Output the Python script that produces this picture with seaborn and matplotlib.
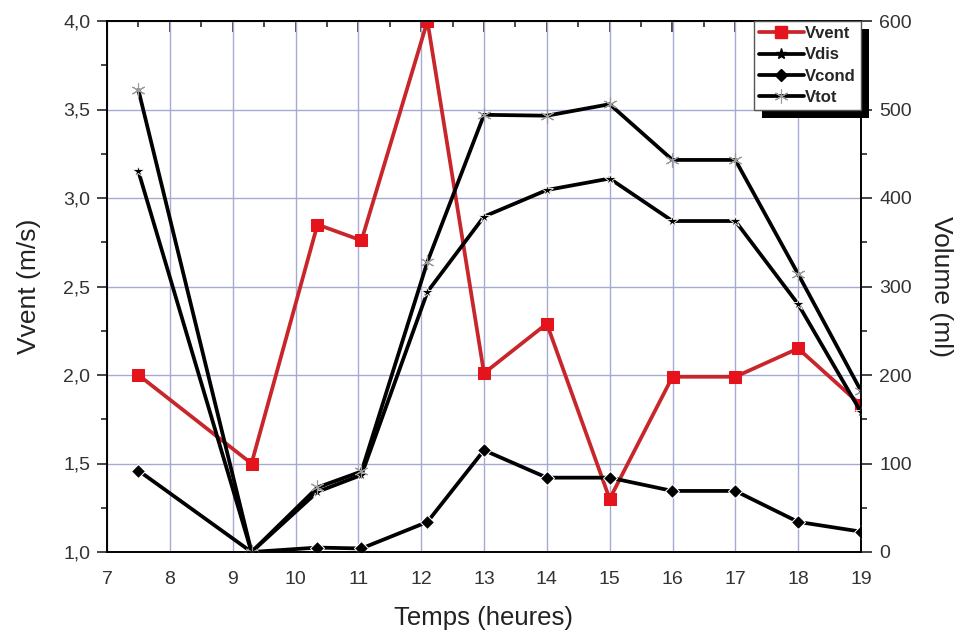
import matplotlib
matplotlib.use("Agg")
import matplotlib.pyplot as plt
import seaborn as sns
from matplotlib.ticker import MultipleLocator, FuncFormatter
from matplotlib.lines import Line2D
from matplotlib.patches import Rectangle
from matplotlib.transforms import IdentityTransform

# Measurement times (hours) and series
hours = [7.5, 9.3, 10.35, 11.05, 12.1, 13, 14, 15, 16, 17, 18, 19]
vvent = [2.00, 1.50, 2.85, 2.76, 4.00, 2.01, 2.29, 1.30, 1.99, 1.99, 2.15, 1.83]   # m/s
vdis = [430, 0, 68, 87, 294, 379, 409, 422, 374, 374, 280, 158]                    # ml
vcond = [92, 0, 5, 4, 34, 115, 84, 84, 69, 69, 34, 23]                             # ml
vtot = [522, 0, 73, 91, 328, 494, 493, 506, 443, 443, 314, 182]                    # ml

sns.set_style("white")
plt.rcParams['font.family'] = ['Liberation Sans', 'DejaVu Sans']
plt.rcParams['axes.linewidth'] = 1.2

W, H = 962, 638
fig = plt.figure(figsize=(W / 100, H / 100), dpi=100)
ax = fig.add_axes([107 / W, 1 - 552 / H, (861 - 107) / W, (552 - 21) / H])
ax2 = ax.twinx()

red_line = '#c8262a'
red_fill = '#e5141c'
lw = 2.7
ast_col = '#9a9a9a'

sns.lineplot(x=hours, y=vvent, ax=ax, color=red_line, lw=lw, marker='s',
             markersize=8, markerfacecolor=red_fill, markeredgecolor=red_fill,
             errorbar=None, legend=False)
sns.lineplot(x=hours, y=vdis, ax=ax2, color='black', lw=lw, marker='*',
             markersize=9, markeredgewidth=0.6, errorbar=None, legend=False)
sns.lineplot(x=hours, y=vcond, ax=ax2, color='black', lw=lw, marker='D',
             markersize=7, errorbar=None, legend=False)
sns.lineplot(x=hours, y=vtot, ax=ax2, color='black', lw=lw, marker=(6, 2, 0),
             markersize=10, markeredgewidth=0.8, markeredgecolor=ast_col,
             errorbar=None, legend=False)

# Axes ranges and ticks
ax.set_xlim(7, 19)
ax.set_ylim(1.0, 4.0)
ax2.set_ylim(0, 600)
ax.xaxis.set_major_locator(MultipleLocator(1))
ax.xaxis.set_minor_locator(MultipleLocator(0.5))
ax.yaxis.set_major_locator(MultipleLocator(0.5))
ax.yaxis.set_minor_locator(MultipleLocator(0.25))
ax2.yaxis.set_major_locator(MultipleLocator(100))
ax2.yaxis.set_minor_locator(MultipleLocator(50))
ax.yaxis.set_major_formatter(FuncFormatter(lambda v, p: f"{v:.1f}".replace('.', ',')))

grid_c = '#a4aad2'
ax.grid(True, which='major', color=grid_c, lw=1.0)
ax.set_axisbelow(True)

ax.tick_params(axis='x', which='major', direction='out', length=8, width=1.2,
               labelsize=14, pad=6, colors='black', labelcolor='#333333')
ax.tick_params(axis='x', which='minor', direction='out', length=4, width=1.2)
ax.tick_params(axis='y', which='major', direction='out', length=7, width=1.2,
               labelsize=14, pad=5, labelcolor='#333333')
ax.tick_params(axis='y', which='minor', direction='out', length=4, width=1.2)
ax2.tick_params(axis='y', which='major', direction='out', length=8, width=1.2,
                labelsize=14, pad=5, labelcolor='#333333')
ax2.tick_params(axis='y', which='minor', direction='out', length=4, width=1.2)

top = ax.secondary_xaxis('top')
top.xaxis.set_major_locator(MultipleLocator(1))
top.xaxis.set_minor_locator(MultipleLocator(0.5))
top.tick_params(which='major', direction='in', length=8, width=1.2, labeltop=False)
top.tick_params(which='minor', direction='in', length=4, width=1.2)

for a in (ax, ax2):
    for s in a.spines.values():
        s.set_color('black')
        s.set_linewidth(1.2)

ax.set_xlabel('Temps (heures)', fontsize=18.5, labelpad=13, color='#222222')
ax.set_ylabel('Vvent (m/s)', fontsize=19, labelpad=16, color='#222222')
ax2.set_ylabel('Volume (ml)', fontsize=19, rotation=270, labelpad=30, color='#222222')

# Legend with a solid drop shadow
handles = [
    Line2D([], [], color=red_line, lw=lw, marker='s', markersize=8,
           markerfacecolor=red_fill, markeredgecolor=red_fill),
    Line2D([], [], color='black', lw=lw, marker='*', markersize=8),
    Line2D([], [], color='black', lw=lw, marker='D', markersize=6),
    Line2D([], [], color='black', lw=lw, marker=(6, 2, 0), markersize=10,
           markeredgecolor=ast_col, markeredgewidth=0.8),
]
labels = ['Vvent', 'Vdis', 'Vcond', 'Vtot']
leg = ax2.legend(handles, labels, loc='upper right', bbox_to_anchor=(1.0, 1.0),
                 borderaxespad=0.0, frameon=True, fancybox=False, framealpha=1,
                 edgecolor='#555555', prop={'weight': 'bold', 'size': 12},
                 handlelength=2.7, handletextpad=0.1, labelspacing=0.38,
                 borderpad=0.3)
leg.get_frame().set_linewidth(1.0)
leg.set_zorder(6)

fig.canvas.draw()
bb = leg.get_window_extent()
shadow = Rectangle((bb.x0 + 8, bb.y0 - 8), bb.width, bb.height,
                   transform=IdentityTransform(), facecolor='black',
                   edgecolor='none', clip_on=False, zorder=5.5)
ax2.add_artist(shadow)

fig.savefig('out.png', dpi=100)
